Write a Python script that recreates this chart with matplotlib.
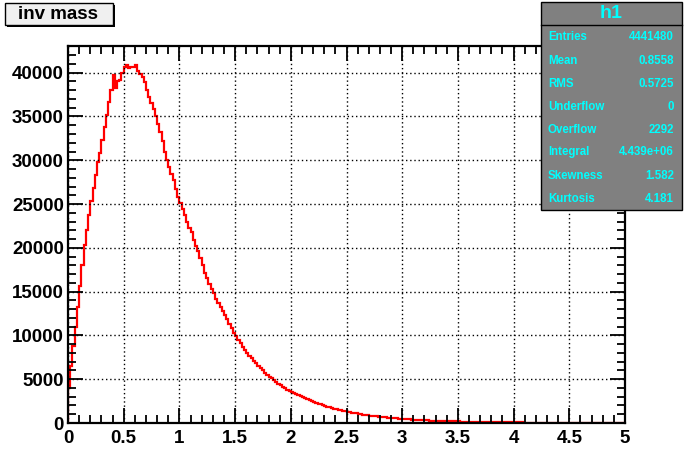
import matplotlib
matplotlib.use("Agg")
import matplotlib.pyplot as plt
from matplotlib.patches import Rectangle
from matplotlib.ticker import MultipleLocator, FuncFormatter
import numpy as np

# bin edges and contents of h1 (0.02 wide bins)
x_lo, x_hi, n_bins = 0.0, 5.0, 250
counts = [
    4000, 6500, 8800, 11000, 13300, 15600, 18000, 20300, 22000, 23700,
    25300, 26800, 28300, 29800, 30800, 32300, 33800, 35200, 36700, 38000,
    39700, 38300, 39100, 39200, 40000,
    40600, 40900, 40500, 40700, 40600, 40900, 40200, 39900, 39500, 38900,
    38000, 37200, 36500, 35900, 35100, 34200, 33200, 32200, 31000, 30000,
    29200, 28400, 27700, 26700, 25800,
    25100, 24400, 23800, 23000, 22300, 21800, 20900, 20200, 19600, 18800,
    18000, 17100, 16600, 15900, 15300, 14800, 14200, 13700, 13300, 12800,
    12300, 11900, 11300, 10800, 10300,
    9900, 9500, 9100, 8700, 8300, 8000, 7700, 7400, 7100, 6800,
    6500, 6250, 6000, 5750, 5500, 5300, 5100, 4900, 4700, 4500,
    4300, 4150, 3950, 3800, 3700,
    3550, 3400, 3300, 3150, 3050, 2920, 2800, 2700, 2600, 2480,
    2400, 2300, 2200, 2120, 2030, 1950, 1870, 1800, 1720, 1650,
    1590, 1520, 1460, 1400, 1350, 1290, 1240, 1190, 1140, 1090,
    1050, 1000, 960, 920, 880, 850, 810, 780, 750, 720,
    690, 660, 630, 610, 580, 560, 540, 515, 495, 475,
    455, 438, 420, 405, 390, 374, 360, 346, 333, 320,
    308, 296, 285, 274, 264, 254, 244, 235, 226, 217,
    209, 201, 193, 186, 179, 172, 166, 159, 153, 147,
    142, 136, 131, 126, 121, 117, 112, 108, 104, 100,
    96, 93, 89, 86, 83, 80, 77, 74, 71, 68,
    65, 63, 61, 58, 56, 54, 52, 50, 48, 46,
    44, 43, 41, 40, 38, 37, 35, 34, 33, 31,
    30, 29, 28, 27, 26, 25, 24, 23, 22, 21,
    20, 20, 19, 18, 17, 17, 16, 15, 15, 14,
    14, 13, 13, 12, 12, 11, 11, 10, 10, 10,
]

title = "inv mass"
stats_name = "h1"
stats_labels = ["Entries", "Mean", "RMS", "Underflow", "Overflow",
                "Integral", "Skewness", "Kurtosis"]
stats_values = ["4441480", "0.8558", "0.5725", "0", "2292",
                "4.439e+06", "1.582", "4.181"]

W, H = 689, 472
plt.rcParams['font.family'] = ['Liberation Sans', 'DejaVu Sans']

fig = plt.figure(figsize=(W / 100, H / 100), dpi=100)
fig.patch.set_facecolor('white')


def px(x, y):
    # pixel (from top-left) -> figure fraction
    return x / W, 1 - y / H


ax = fig.add_axes([68 / W, 1 - 423 / H, (625 - 68) / W, (423 - 46) / H])

edges = np.linspace(x_lo, x_hi, n_bins + 1)
ax.stairs(counts, edges, color='red', lw=1.6, baseline=0)

ax.set_xlim(x_lo, x_hi)
ax.set_ylim(0, 43050)

ax.xaxis.set_major_locator(MultipleLocator(0.5))
ax.xaxis.set_minor_locator(MultipleLocator(0.1))
ax.yaxis.set_major_locator(MultipleLocator(5000))
ax.yaxis.set_minor_locator(MultipleLocator(1000))
ax.xaxis.set_major_formatter(FuncFormatter(lambda v, p: f"{v:g}"))
ax.yaxis.set_major_formatter(FuncFormatter(lambda v, p: f"{v:.0f}"))

ax.tick_params(which='both', direction='in', top=True, right=True,
               labelsize=13.5, width=1.3)
ax.tick_params(which='major', length=11)
ax.tick_params(which='minor', length=5.5)
ax.tick_params(axis='x', pad=5)
ax.tick_params(axis='y', pad=3)
for lab in ax.get_xticklabels() + ax.get_yticklabels():
    lab.set_fontweight('bold')

for s in ax.spines.values():
    s.set_linewidth(1.6)

ax.grid(True, which='major', color='black', linestyle=(0, (1, 2)), lw=1.0)
ax.set_axisbelow(False)

# title box with shadow
x0, y0 = px(5, 25)
fig.add_artist(Rectangle((x0 + 2 / W, y0 - 2 / H), 108 / W, 22 / H,
                         transform=fig.transFigure, facecolor='black',
                         edgecolor='black', lw=0))
fig.add_artist(Rectangle((x0, y0), 108 / W, 22 / H, transform=fig.transFigure,
                         facecolor='#f0f0f0', edgecolor='black', lw=1))
tx, ty = px(58, 14.5)
fig.text(tx, ty, title, ha='center', va='center', fontsize=13.5,
         fontweight='bold', color='black')

# stats box
bx0, by0 = px(541, 210)
fig.add_artist(Rectangle((bx0, by0), 141 / W, 208 / H,
                         transform=fig.transFigure, facecolor='#808080',
                         edgecolor='black', lw=1, zorder=5))
lx0, ly = px(541, 25)
lx1, _ = px(682, 25)
fig.add_artist(plt.Line2D([lx0, lx1], [ly, ly], transform=fig.transFigure,
                          color='black', lw=1, zorder=6))
hx, hy = px(611, 14)
fig.text(hx, hy, stats_name, ha='center', va='center', fontsize=14,
         fontweight='bold', color='cyan', zorder=7)
row_y = [37, 61, 84, 107, 130, 152, 176, 199]
for lab, val, yy in zip(stats_labels, stats_values, row_y):
    ax_l, ay = px(548, yy)
    ax_r, _ = px(674, yy)
    fig.text(ax_l, ay, lab, ha='left', va='center', fontsize=8.3,
             fontweight='bold', color='cyan', zorder=7)
    fig.text(ax_r, ay, val, ha='right', va='center', fontsize=8.3,
             fontweight='bold', color='cyan', zorder=7)

fig.savefig("out.png", dpi=100)
